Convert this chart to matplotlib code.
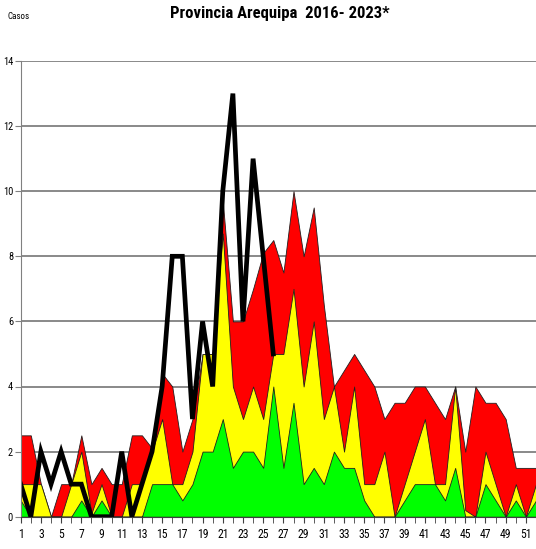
import matplotlib
matplotlib.use("Agg")
import matplotlib.pyplot as plt
from matplotlib import font_manager
import numpy as np

# semanas epidemiologicas 1..52
semanas = list(range(1, 53))

# zona de alarma (limite superior)
alarma = [2.5, 2.5, 1, 0, 1, 1, 2.5, 1, 1.5, 1,
          1, 2.5, 2.5, 2.1, 4.4, 4, 2, 3, 5, 5,
          9.7, 6, 6, 7, 8.1, 8.5, 7.5, 10, 8, 9.5,
          6.5, 4, 4.5, 5, 4.5, 4, 3, 3.5, 3.5, 4,
          4, 3.5, 3, 4, 2, 4, 3.5, 3.5, 3, 1.5,
          1.5, 1.5]

# zona de seguridad
seguridad = [1, 1, 1, 0, 0, 1, 2, 0.1, 1, 0,
             0, 1, 1, 2, 3, 1, 1, 2, 5, 5,
             8.7, 4, 3, 4, 3, 5, 5, 7, 4, 6,
             3, 4, 2, 4, 1, 1, 2, 0, 1, 2,
             3, 1, 1, 4, 0.2, 0, 2, 1, 0, 1,
             0, 1]

# zona de exito
exito = [0.5, 0, 0, 0, 0, 0, 0.5, 0, 0.5, 0,
         0, 0, 0, 1, 1, 1, 0.5, 1, 2, 2,
         3, 1.5, 2, 2, 1.5, 4, 1.5, 3.5, 1, 1.5,
         1, 2, 1.5, 1.5, 0.5, 0, 0, 0, 0.5, 1,
         1, 1, 0.5, 1.5, 0, 0, 1, 0.5, 0, 0.5,
         0, 0.5]

# casos 2023 (hasta la semana 26)
sem_2023 = list(range(1, 27))
casos_2023 = [1, 0, 2, 1, 2, 1, 1, 0, 0, 0,
              2, 0, 1, 2, 4, 8, 8, 3, 6, 4,
              10, 13, 6, 11, 8, 5]

# buscar una fuente angosta entre las instaladas
names = set(f.name for f in font_manager.fontManager.ttflist)
stretches = set((f.name, f.stretch) for f in font_manager.fontManager.ttflist)
narrow = None
for cand in ['Liberation Sans Narrow', 'Roboto Condensed', 'Open Sans Condensed',
             'DejaVu Sans Condensed', 'Noto Sans Condensed']:
    if cand in names:
        narrow = dict(family=cand)
        break
if narrow is None:
    cond = [n for (n, s) in stretches if s in ('condensed', 'semi-condensed', 'extra-condensed', 'ultra-condensed')]
    if cond:
        n = sorted(cond)[0]
        st = [s for (nn, s) in stretches if nn == n and s != 'normal'][0]
        narrow = dict(family=n, stretch=st)
    else:
        narrow = dict(family='Liberation Sans')

fig = plt.figure(figsize=(5.36, 5.49), dpi=100)
ax = fig.add_axes([20.7/536, 32.3/549, 1 - 20.7/536, 455.7/549])

ax.fill_between(semanas, 0, alarma, facecolor='#ff0000', edgecolor='#202020', lw=0.6, zorder=2)
ax.fill_between(semanas, 0, seguridad, facecolor='#ffff00', edgecolor='#202020', lw=0.6, zorder=3)
ax.fill_between(semanas, 0, exito, facecolor='#00ff00', edgecolor='#202020', lw=0.6, zorder=4)
ax.plot(sem_2023, casos_2023, color='black', lw=3.4, zorder=5, solid_joinstyle='miter')

ax.set_xlim(1, 51.42)
ax.set_ylim(0, 14)
ax.set_yticks(np.arange(0, 15, 2))
ax.set_xticks(semanas, minor=True)
ax.set_xticks(semanas[::2])
ax.grid(axis='y', color='#808080', lw=1.3, zorder=1)
ax.set_axisbelow(True)

for s in ['top', 'right']:
    ax.spines[s].set_visible(False)
ax.spines['left'].set_color('#808080')
ax.spines['bottom'].set_color('#404040')
ax.spines['left'].set_zorder(6)
ax.spines['bottom'].set_zorder(6)

ax.tick_params(axis='y', length=4, color='#808080', labelsize=7.5, pad=1.5)
ax.tick_params(axis='x', which='major', length=4, color='#404040', labelsize=8.5, pad=4)
ax.tick_params(axis='x', which='minor', length=4, color='#404040')
for lbl in ax.get_xticklabels() + ax.get_yticklabels():
    lbl.set_fontproperties(font_manager.FontProperties(size=lbl.get_fontsize(), **narrow))

fig.text(8/536, 1 - 19/549, 'Casos', fontsize=6.5, va='baseline', **narrow)
fig.text(280/536, 1 - 18/549, 'Provincia Arequipa  2016- 2023*', fontsize=12,
         fontweight='bold', ha='center', va='baseline', **narrow)

fig.savefig('out.png', dpi=100)
